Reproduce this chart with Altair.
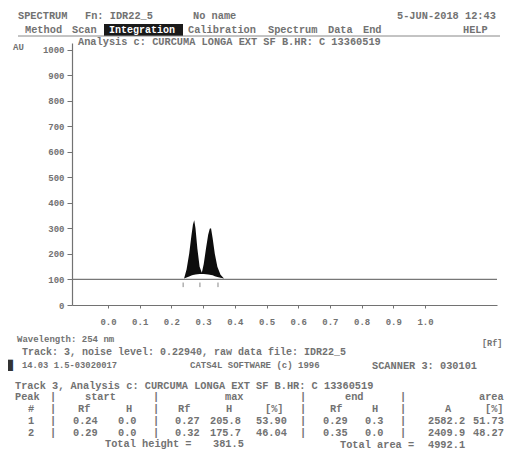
import altair as alt
import pandas as pd

# ---------------- data ----------------
# densitogram profile of the two peaks (Rf, upper AU, lower AU)
prof_rf = [0.240, 0.248, 0.256, 0.263, 0.268, 0.272, 0.276, 0.282, 0.289, 0.296,
           0.302, 0.309, 0.316, 0.321, 0.325, 0.330, 0.337, 0.345, 0.355, 0.366]
prof_hi = [104, 140, 200, 270, 315, 332, 300, 220, 150, 126,
           160, 220, 275, 298, 300, 262, 200, 150, 118, 104]
prof_lo = [104, 108, 112, 115, 117, 118, 119, 120, 121, 121,
           121, 120, 119, 118, 117, 116, 113, 110, 107, 104]
baseline_au = 100
marker_rf = [0.237, 0.290, 0.347]
marker_lo = [70, 70, 70]
marker_hi = [88, 88, 88]

x_ticks = [0.0, 0.1, 0.2, 0.3, 0.4, 0.5, 0.6, 0.7, 0.8, 0.9, 1.0]
y_ticks = [0, 100, 200, 300, 400, 500, 600, 700, 800, 900, 1000]

# result table
peak_ids = ["1", "2"]
start_rf = ["0.24", "0.29"]
start_h = ["0.0", "0.0"]
max_rf = ["0.27", "0.32"]
max_h = ["205.8", "175.7"]
max_pct = ["53.90", "46.04"]
end_rf = ["0.29", "0.35"]
end_h = ["0.3", "0.0"]
area_a = ["2582.2", "2409.9"]
area_pct = ["51.73", "48.27"]
total_height = "381.5"
total_area = "4992.1"

# ---------------- layout ----------------
OX, OY = 72, 43          # page position of plot-area origin
W, H = 425, 262
GRAY = "#727272"
FONT = "Liberation Mono"
FS = 10.3

texts = []
def put(t, x, y, c=GRAY, s=FS):
    texts.append({"t": t, "px": x - OX, "py": y - OY, "c": c, "s": s})

# header
put("SPECTRUM", 18, 16)
put("Fn: IDR22_5", 85, 16)
put("No name", 193, 16)
put("5-JUN-2018 12:43", 397, 16)
put("Method", 25, 30)
put("Scan", 72, 30)
put("Integration", 109, 30, "white", 10)
put("Calibration", 188, 30)
put("Spectrum", 268, 30)
put("Data", 328, 30)
put("End", 363, 30)
put("HELP", 463, 30)
put("Analysis c: CURCUMA LONGA EXT SF B.HR: C 13360519", 78, 42)
put("AU", 13, 47, GRAY, 9)

# info lines
put("Wavelength: 254 nm", 17, 339, GRAY, 9)
put("[Rf]", 482, 343, GRAY, 8.5)
put("Track:  3, noise level:  0.22940, raw data file: IDR22_5", 22, 352, GRAY, 10)
put("\u2588", 7, 365, "#333333", 10)
put("14.03 1.5-03020017", 22, 365, GRAY, 8.8)
put("CATS4L SOFTWARE (c) 1996", 190, 365, GRAY, 9)
put("SCANNER 3: 030101", 372, 366, GRAY, 10.3)

# table
put("Track 3, Analysis c: CURCUMA LONGA EXT SF B.HR: C 13360519", 15, 386)
for s, x in [("Peak", 15), ("|", 50), ("start", 85), ("|", 153), ("max", 225),
             ("|", 300), ("end", 345), ("|", 400), ("area", 479)]:
    put(s, x, 397)
for s, x in [("#", 28), ("|", 50), ("Rf", 78), ("H", 126), ("|", 153), ("Rf", 178),
             ("H", 226), ("[%]", 265), ("|", 300), ("Rf", 330), ("H", 372),
             ("|", 400), ("A", 445), ("[%]", 485)]:
    put(s, x, 409)
cols = [(peak_ids, 28), (["|"] * 2, 50), (start_rf, 73), (start_h, 118), (["|"] * 2, 153),
        (max_rf, 175), (max_h, 210), (max_pct, 256), (["|"] * 2, 300),
        (end_rf, 323), (end_h, 365), (["|"] * 2, 400), (area_a, 428), (area_pct, 473)]
for i in range(2):
    for arr, x in cols:
        put(arr[i], x, 421 + 12 * i)
put("Total height =", 105, 444)
put(total_height, 213, 444)
put("Total area =", 340, 445)
put(total_area, 428, 445)

tdf = pd.DataFrame(texts)
pdf = pd.DataFrame({"rf": prof_rf, "hi": prof_hi, "lo": prof_lo})
mdf = pd.DataFrame({"rf": marker_rf, "lo": marker_lo, "hi": marker_hi})

xdom = [-36 / 317, (W - 36) / 317]
ydom = [0, H / 0.2555]
xs = alt.Scale(domain=xdom, nice=False, zero=False)
ys = alt.Scale(domain=ydom, nice=False, zero=True)

base_axis = dict(domainColor=GRAY, tickColor=GRAY, labelColor=GRAY, labelFont=FONT,
                 labelFontSize=9, labelFontWeight="bold", grid=False, title=None,
                 domainWidth=1.2, labelOverlap=False)
x_axis = alt.Axis(values=x_ticks, format=".1f", tickSize=3, labelPadding=9, **base_axis)
y_axis = alt.Axis(values=y_ticks, format="d", tickSize=5, labelPadding=3, **base_axis)

base_line = alt.Chart(pd.DataFrame({"b": [baseline_au]})).mark_rule(
    color="#777777", strokeWidth=1.2).encode(y=alt.Y("b:Q", scale=ys, axis=y_axis))

area = alt.Chart(pdf).mark_area(color="black", opacity=0.95).encode(
    x=alt.X("rf:Q", scale=xs, axis=x_axis),
    y=alt.Y("hi:Q", scale=ys, axis=y_axis),
    y2="lo:Q",
)

markers = alt.Chart(mdf).mark_rule(color="#888888", strokeWidth=1).encode(
    x=alt.X("rf:Q", scale=xs, axis=x_axis),
    y=alt.Y("lo:Q", scale=ys, axis=y_axis),
    y2="hi:Q",
)

menu_box = alt.Chart(pd.DataFrame({"a": [0]})).mark_rect(color="#1a1a1a").encode(
    x=alt.value(104 - OX), x2=alt.value(183 - OX),
    y=alt.value(24 - OY), y2=alt.value(36 - OY))

menu_line = alt.Chart(pd.DataFrame({"a": [0]})).mark_rule(color="#888888", strokeWidth=1).encode(
    x=alt.value(18 - OX), x2=alt.value(500 - OX), y=alt.value(36 - OY))

txt = alt.Chart(tdf).mark_text(align="left", baseline="middle", font=FONT,
                               fontWeight="bold").encode(
    x=alt.X("px:Q", scale=None, axis=None),
    y=alt.Y("py:Q", scale=None, axis=None),
    text="t:N",
    color=alt.Color("c:N", scale=None),
    size=alt.Size("s:Q", scale=None),
)

chart = alt.layer(base_line, area, markers, menu_box, menu_line, txt).properties(
    width=W, height=H,
    autosize=alt.AutoSizeParams(type="none"),
    padding={"left": OX - 8, "top": OY - 8, "right": 9, "bottom": 145},
    background="white",
).configure_view(stroke=None, clip=False)

chart.save("out.html", embed_options={"renderer": "svg", "actions": False})
